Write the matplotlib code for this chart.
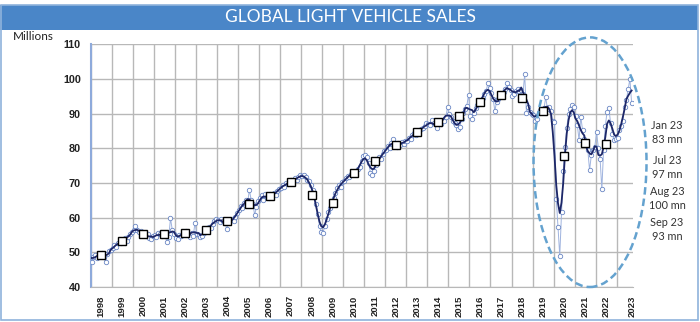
import numpy as np
import pandas as pd
import matplotlib
matplotlib.use('Agg')
import matplotlib.pyplot as plt
from matplotlib.patches import Ellipse, Rectangle

# Global light vehicle selling rate, millions of units, by month
s1998 = [47.3, 48.6, 49.2, 48.4, 49.5, 48.9, 49.8, 48.7, 47.2, 49.6, 50.4, 50.8]
s1999 = [51.2, 52.0, 51.6, 52.8, 53.1, 52.7, 53.6, 54.0, 53.4, 54.5, 55.2, 56.0]
s2000 = [56.3, 57.6, 56.5, 55.8, 56.2, 55.1, 55.4, 54.8, 55.3, 54.2, 53.8, 54.6]
s2001 = [55.0, 54.3, 55.6, 55.2, 54.8, 55.5, 54.6, 53.1, 54.4, 59.8, 56.5, 55.2]
s2002 = [54.2, 53.8, 55.1, 54.6, 55.9, 55.3, 56.2, 55.0, 54.5, 55.6, 54.8, 58.6]
s2003 = [55.2, 54.9, 54.3, 54.8, 55.6, 56.2, 56.9, 57.4, 57.1, 58.3, 59.0, 59.6]
s2004 = [59.4, 58.8, 59.6, 58.9, 59.2, 56.7, 58.4, 59.1, 59.5, 59.0, 60.3, 61.2]
s2005 = [62.3, 63.5, 62.8, 64.2, 65.0, 64.4, 68.0, 65.1, 64.0, 60.7, 63.2, 64.8]
s2006 = [65.8, 66.4, 65.2, 66.9, 66.1, 65.6, 66.7, 66.0, 67.2, 66.5, 67.8, 68.4]
s2007 = [68.6, 69.3, 68.9, 70.1, 69.6, 70.4, 70.8, 70.2, 71.3, 70.9, 71.8, 72.4]
s2008 = [72.0, 72.4, 71.6, 71.0, 70.5, 69.5, 68.0, 66.5, 64.0, 61.0, 57.5, 55.8]
s2009 = [55.7, 57.5, 59.5, 61.5, 62.8, 64.0, 65.6, 67.2, 68.5, 69.4, 68.9, 70.2]
s2010 = [70.6, 71.3, 72.0, 71.6, 72.5, 73.1, 72.7, 73.4, 73.9, 74.6, 76.2, 77.9]
s2011 = [78.2, 77.5, 75.8, 73.0, 72.4, 73.6, 75.2, 76.3, 77.4, 76.9, 78.3, 79.2]
s2012 = [79.6, 80.8, 80.2, 81.5, 82.7, 81.1, 80.4, 81.6, 80.9, 81.8, 81.3, 82.2]
s2013 = [82.0, 83.1, 82.8, 83.9, 84.5, 83.8, 85.0, 84.6, 85.5, 85.9, 86.4, 87.2]
s2014 = [87.0, 86.6, 88.2, 87.4, 86.9, 85.8, 87.6, 87.1, 88.3, 87.9, 89.0, 91.8]
s2015 = [89.8, 88.9, 88.0, 87.3, 86.6, 85.6, 86.2, 88.4, 90.1, 91.4, 92.3, 95.5]
s2016 = [89.2, 88.6, 90.3, 91.5, 92.4, 93.1, 93.8, 94.6, 95.7, 96.5, 98.7, 97.4]
s2017 = [96.0, 94.2, 90.8, 93.5, 94.1, 94.8, 95.2, 96.3, 97.1, 98.7, 97.8, 96.9]
s2018 = [95.0, 95.8, 96.4, 97.2, 96.5, 96.9, 95.8, 101.3, 90.3, 92.0, 90.6, 89.8]
s2019 = [89.6, 87.9, 88.6, 90.2, 91.0, 90.4, 91.5, 94.7, 91.3, 91.8, 90.9, 88.0]
s2020 = [87.5, 65.5, 57.2, 49.0, 61.5, 73.5, 80.5, 86.0, 90.0, 91.4, 92.6, 91.8]
s2021 = [89.2, 86.8, 82.4, 89.1, 85.3, 82.8, 81.9, 79.5, 73.7, 78.0, 79.6, 80.5]
s2022 = [84.6, 80.2, 77.0, 68.2, 79.5, 86.5, 90.6, 91.5, 87.4, 84.2, 82.4, 82.8]
s2023 = [83.0, 85.2, 86.4, 88.0, 91.8, 94.0, 97.0, 100.0, 93.0]

# annual totals, 1998-2022
annual_years = list(range(1998, 2023))
annual = [49.1, 53.3, 55.4, 55.3, 55.5, 56.5, 59.0, 63.8, 66.3, 70.3, 66.5, 64.1, 73.0,
          76.4, 81.0, 84.6, 87.5, 89.3, 93.3, 95.3, 94.6, 90.8, 77.9, 81.6, 81.2]

year_labels = [str(y) for y in range(1998, 2024)]
notes = ['Jan 23\n83 mn', 'Jul 23\n97 mn', 'Aug 23\n100 mn', 'Sep 23\n93 mn']

monthly = np.array(s1998 + s1999 + s2000 + s2001 + s2002 + s2003 + s2004 + s2005 + s2006
                   + s2007 + s2008 + s2009 + s2010 + s2011 + s2012 + s2013 + s2014 + s2015
                   + s2016 + s2017 + s2018 + s2019 + s2020 + s2021 + s2022 + s2023)
x_month = 1998 + (np.arange(len(monthly)) + 0.5) / 12
trend = pd.Series(monthly).rolling(5, center=True, min_periods=3).mean()

fig = plt.figure(figsize=(7, 3.22), dpi=100)
fig.patch.set_facecolor('white')

# title band and outer frame
fig.patches.append(Rectangle((0.0, 0.907), 0.997, 0.078, transform=fig.transFigure,
                             facecolor='#4a86c8', edgecolor='none'))
fig.text(0.5, 0.946, 'GLOBAL LIGHT VEHICLE SALES', ha='center', va='center',
         color='white', fontsize=12.5, family='Lato')
fig.patches.append(Rectangle((0.001, 0.006), 0.996, 0.979, transform=fig.transFigure,
                             facecolor='none', edgecolor='#8fb3dc', lw=1.2))
fig.text(0.019, 0.888, 'Millions', ha='left', va='center', fontsize=8.5,
         family='Lato', color='#222222')

ax = fig.add_axes([0.1296, 0.1087, 0.7743, 0.7537])
ax.set_xlim(1998, 2023.76)
ax.set_ylim(40, 110)

ax.plot(x_month, monthly, color='#9fb3de', lw=0.7, marker='o', ms=3.2,
        mfc='white', mec='#6a86c4', mew=0.6, zorder=3)
ax.plot(x_month, trend, color='#1d2768', lw=1.3, zorder=4)
ax.plot(np.array(annual_years) + 0.5, annual, ls='none', marker='s', ms=5.3,
        mfc='white', mec='black', mew=1.0, zorder=5)

# dashed ring round the recent years
ax.add_patch(Ellipse((2021.73, 76), 5.37, 72, fill=False, edgecolor='#64a2cf',
                     lw=1.8, ls=(0, (3, 1.6)), clip_on=False, zorder=6))

label_pos = [y + 0.5 for y in range(1998, 2023)] + [2023.75]
ax.set_xticks(label_pos)
ax.set_xticklabels(year_labels, rotation=90, fontsize=6.8, fontweight='bold',
                   family='Liberation Sans', color='#222222')
ax.set_xticks(np.arange(1998, 2024), minor=True)
ax.set_yticks(np.arange(40, 111, 10))
ax.set_yticklabels([str(v) for v in range(40, 111, 10)], fontsize=7.8,
                   fontweight='bold', family='Liberation Sans', color='#222222')
ax.tick_params(which='both', length=0)
ax.tick_params(axis='x', pad=6)
ax.tick_params(axis='y', pad=7)
ax.grid(which='minor', axis='x', color='#b8b8b8', lw=1.0)
ax.grid(which='major', axis='y', color='#b8b8b8', lw=1.0)
ax.set_axisbelow(True)
for side in ['top', 'right']:
    ax.spines[side].set_visible(False)
ax.spines['bottom'].set_color('#b8b8b8')
ax.spines['left'].set_color('#8eaadb')
ax.spines['left'].set_linewidth(1.5)

note_y = [0.589, 0.481, 0.383, 0.286]
for txt, yy in zip(notes, note_y):
    fig.text(0.953, yy, txt, ha='center', va='center', fontsize=7.8,
             family='Lato', color='#333333', linespacing=1.35)

fig.savefig('out.png', dpi=100)
